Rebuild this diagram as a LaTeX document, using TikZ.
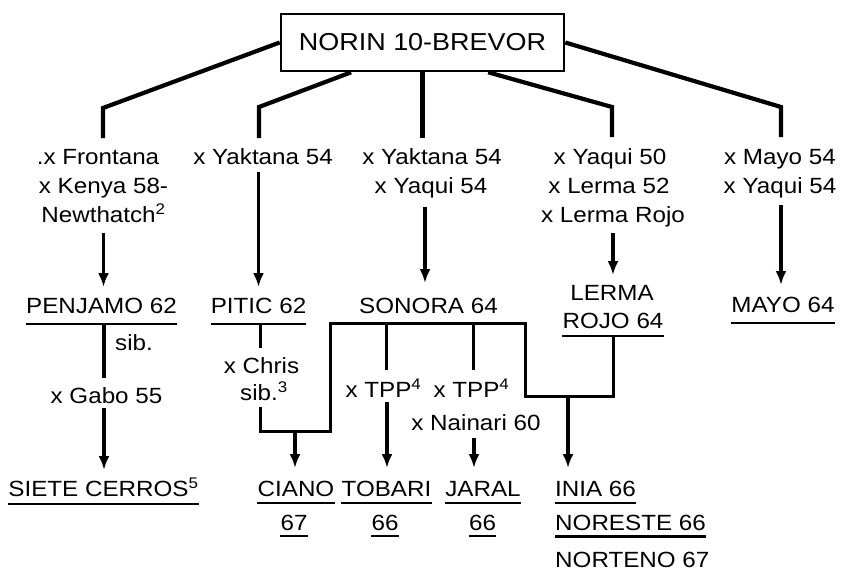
\documentclass[tikz,border=0pt]{standalone}
\usepackage{fontspec}
\setmainfont{Liberation Sans}[FakeStretch=1.1]
\usetikzlibrary{arrows.meta,calc}
\newcommand\fsz{\fontsize{22}{24}\selectfont}
\newcommand\myul[2]{\draw[ul] ([yshift=-#2]#1.base west) -- ([yshift=-#2]#1.base east);}
\begin{document}
\begin{tikzpicture}[x=1pt,y=-1pt,
  txt/.style={font=\fsz, inner sep=0pt, anchor=base},
  trunk/.style={line width=4.2pt, line join=miter},
  arr/.style={line width=3.2pt, -{Latex[length=14pt,width=11pt]}},
  br/.style={line width=3pt, line join=miter},
  ul/.style={line width=2.5pt}]
\useasboundingbox[fill=white] (0,0) rectangle (843,570);

\node[draw, line width=2.6pt, minimum width=283pt, minimum height=57pt, inner sep=0pt,
  font=\fontsize{24.5}{26}\selectfont] (top) at (422.5,42.5) {NORIN 10-BREVOR};

% parent rows
\node[txt] (fr) at (98,164) {.x Frontana};
\node[txt] (ke) at (103.5,193) {x Kenya 58-};
\node[txt] (nw) at (103.5,222) {Newthatch\textsuperscript{2}};
\node[txt] (ya1) at (263,164) {x Yaktana 54};
\node[txt] (ya2) at (432,164) {x Yaktana 54};
\node[txt] (yq1) at (431,193) {x Yaqui 54};
\node[txt] (yq50) at (610,164) {x Yaqui 50};
\node[txt] (le52) at (609,193) {x Lerma 52};
\node[txt] (lr) at (613,222) {x Lerma Rojo};
\node[txt] (my) at (780,164) {x Mayo 54};
\node[txt] (yq2) at (780,193) {x Yaqui 54};

% varieties
\node[txt] (pen) at (101.5,313) {PENJAMO 62};
\node[txt] (pit) at (258.5,313) {PITIC 62};
\node[txt] (son) at (428.5,313) {SONORA 64};
\node[txt] (ler1) at (612,300) {LERMA};
\node[txt] (ler2) at (613,328) {ROJO 64};
\node[txt] (mayo) at (783,312) {MAYO 64};
\node[txt] (sib) at (134,350) {sib.};
\node[txt] (chris) at (261.5,373) {x Chris};
\node[txt] (sib3) at (264,400) {sib.\textsuperscript{3}};
\node[txt] (gabo) at (106.5,403) {x Gabo 55};
\node[txt] (tpp1) at (383.5,397) {x TPP\textsuperscript{4}};
\node[txt] (tpp2) at (471.5,397) {x TPP\textsuperscript{4}};
\node[txt] (nai) at (476,430) {x Nainari 60};
\node[txt] (siete) at (103.5,496) {SIETE CERROS\textsuperscript{5}};
\node[txt] (ciano) at (296,496) {CIANO};
\node[txt] (c67) at (294,530) {67};
\node[txt] (tob) at (386.5,496) {TOBARI};
\node[txt] (t66) at (385,530) {66};
\node[txt] (jar) at (483,496) {JARAL};
\node[txt] (j66) at (482.5,530) {66};
\node[txt,anchor=base west] (inia) at (555,496) {INIA 66};
\node[txt,anchor=base west] (nore) at (555,530) {NORESTE 66};
\node[txt,anchor=base west] (nort) at (555,567) {NORTENO 67};

% underlines
\myul{pen}{11pt}
\myul{pit}{11pt}
\myul{ler2}{8pt}
\myul{mayo}{11pt}
\myul{siete}{8pt}
\myul{ciano}{7pt}
\myul{c67}{6pt}
\myul{tob}{7pt}
\myul{t66}{6pt}
\myul{jar}{7pt}
\myul{j66}{6pt}
\myul{inia}{7pt}
\myul{nore}{6.5pt}

% trunk from NORIN 10-BREVOR
\coordinate (a1) at (103,108); \coordinate (b1) at (103,138);
\coordinate (a2) at (259,107); \coordinate (b2) at (259,138);
\coordinate (a4) at (612,107); \coordinate (b4) at (612,137);
\coordinate (a5) at (781,107); \coordinate (b5) at (781,137);
\draw[trunk] (top.west) -- (a1) -- (b1);
\draw[trunk] ($(top.south west)!0.25!(top.south east)$) -- (a2) -- (b2);
\draw[trunk] (top.south) -- (top.south |- b2);
\draw[trunk] ($(top.south west)!0.73!(top.south east)$) -- (a4) -- (b4);
\draw[trunk] (top.east) -- (a5) -- (b5);

% arrows to first varieties
\draw[arr] ($(nw.base)+(0,11)$) -- ($(nw.base |- pen.base)+(0,-26)$);
\draw[arr] ($(pit.base |- ya1.base)+(0,8)$) -- ($(pit.base)+(0,-26)$);
\draw[arr] ($(yq1.base)+(-6,14)$) -- ($(yq1.base |- son.base)+(-6,-30)$);
\draw[arr] ($(lr.base)+(0,11)$) -- ($(lr.base |- ler1.base)+(0,-25)$);
\draw[arr] ($(yq2.base)+(1,12)$) -- ($(yq2.base |- mayo.base)+(1,-27)$);

% Penjamo -> Siete Cerros
\draw[line width=3.2pt] ($(pen.base)+(2.5,11)$) -- ($(pen.base |- gabo.base)+(2.5,-25)$);
\draw[arr] ($(gabo.base)+(-2.5,5)$) -- ($(gabo.base |- siete.base)+(-2.5,-26)$);

% Pitic / Sonora / Lerma Rojo brackets
\draw[br] ($(pit.base)+(1.5,11)$) -- ($(pit.base |- chris.base)+(1.5,-25)$);
\coordinate (m1) at (260,431); \coordinate (m2) at (330,431);
\coordinate (s1) at (330,323); \coordinate (s2) at (525,323);
\coordinate (s3) at (525,396); \coordinate (s4) at (613,396);
\draw[br] ($(sib3.base)+(-4,7)$) -- (m1) -- (m2) -- (s1) -- (s2) -- (s3) -- (s4) -- ($(ler2.base)+(0,8)$);
\draw[br] ($(s1 -| tpp1.base)+(2.5,0)$) -- ($(tpp1.base)+(2.5,-27)$);
\draw[br] ($(s1 -| tpp2.base)+(1.5,0)$) -- ($(tpp2.base)+(1.5,-27)$);

% arrows to second varieties
\draw[arr] ($(m1 -| ciano.base)+(-1,1.3)$) -- ($(ciano.base)+(-1,-28)$);
\draw[arr] ($(tpp1.base)+(3.5,5)$) -- ($(tpp1.base |- tob.base)+(3.5,-28)$);
\draw[arr] ($(nai.base)+(-2,8)$) -- ($(nai.base |- jar.base)+(-2,-28)$);
\coordinate (ia) at (568,396);
\draw[arr] ($(ia)+(0,1.3)$) -- ($(ia |- inia.base)+(0,-28)$);
\end{tikzpicture}
\end{document}
